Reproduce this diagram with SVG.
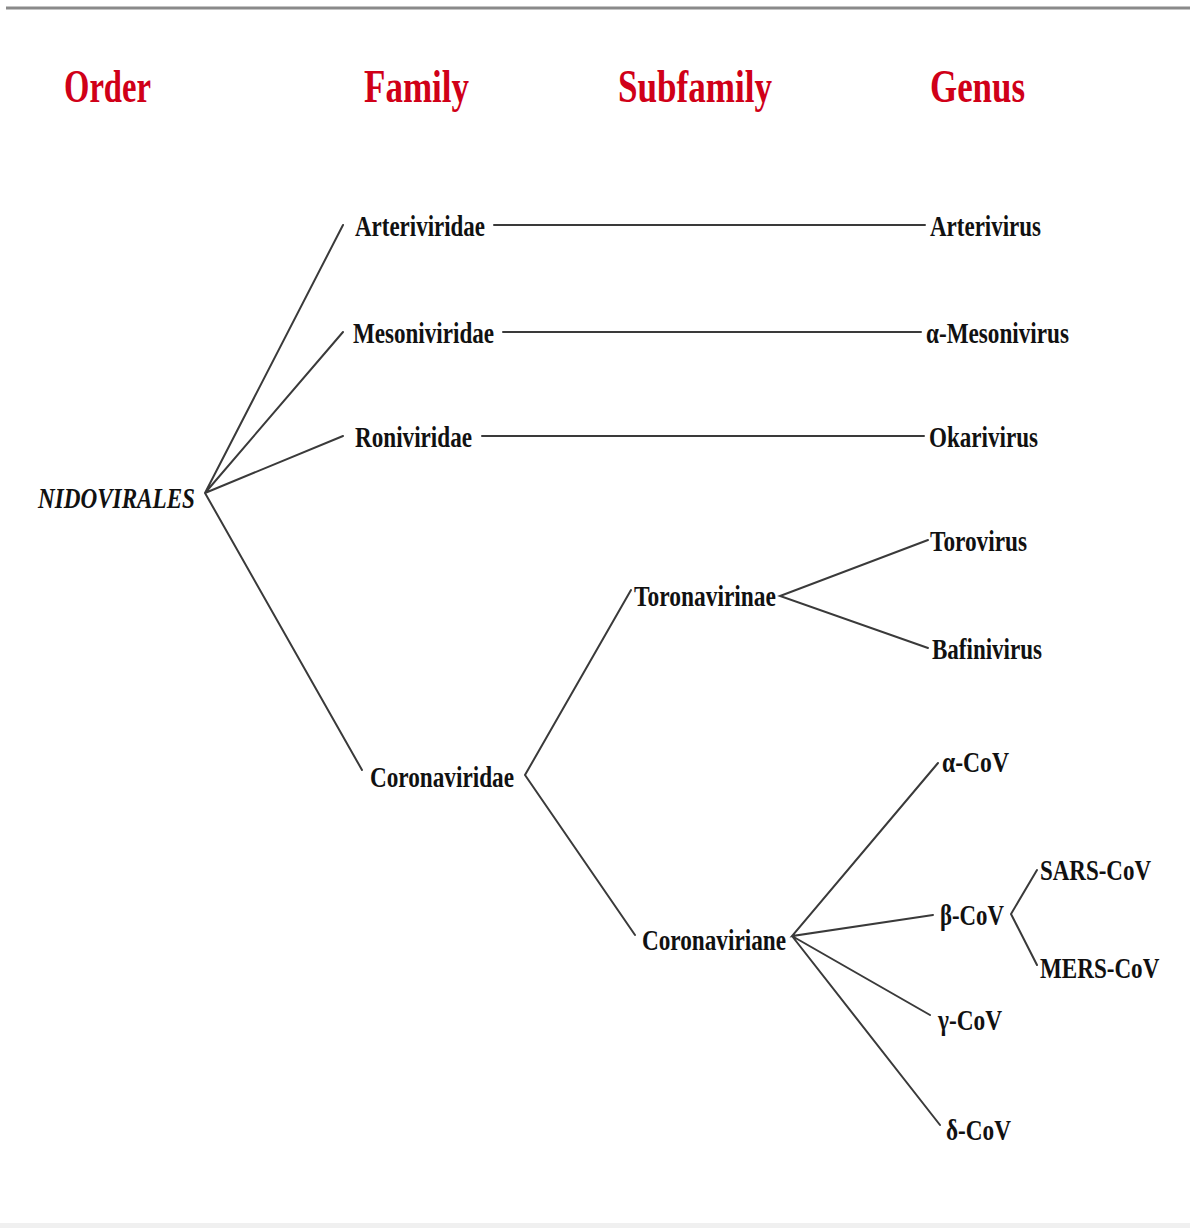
<svg xmlns="http://www.w3.org/2000/svg" width="1190" height="1228" viewBox="0 0 1190 1228">
<style>
.hd{font-family:"Liberation Serif","Times New Roman",serif;font-size:46px;font-weight:bold;fill:#d00018;}
.lb{font-family:"Liberation Serif","Times New Roman",serif;font-size:30px;font-weight:bold;fill:#111;}
.it{font-style:italic;}
.cn{stroke:#3a3a3a;stroke-width:2;fill:none;stroke-linecap:round;}
</style>
<rect x="0" y="0" width="1190" height="1228" fill="#fff"/>
<line x1="6" y1="8" x2="1190" y2="8" stroke="#8a8a8a" stroke-width="3"/>
<rect x="0" y="1223" width="1190" height="5" fill="#f0f0f0"/>
<g id="headers">
<text class="hd" x="64" y="102" textLength="87" lengthAdjust="spacingAndGlyphs">Order</text>
<text class="hd" x="364" y="102" textLength="105" lengthAdjust="spacingAndGlyphs">Family</text>
<text class="hd" x="618" y="102" textLength="154" lengthAdjust="spacingAndGlyphs">Subfamily</text>
<text class="hd" x="930" y="102" textLength="95" lengthAdjust="spacingAndGlyphs">Genus</text>
</g>
<g id="connectors">
<path class="cn" d="M205,493 L343,225 M205,493 L343,332 M205,493 L343,436 M205,493 L362,770"/>
<path class="cn" d="M494,225 L925,225 M503,332 L921,332 M482,436 L924,436"/>
<path class="cn" d="M631,590 L525,775 L635,935"/>
<path class="cn" d="M928,540 L780,596 L928,648"/>
<path class="cn" d="M938,763 L792,936 L933,915 M792,936 L930,1015 M792,936 L940,1125"/>
<path class="cn" d="M1037,870 L1011,914 L1037,965"/>
</g>
<g id="n-nidovirales"><text class="lb it" x="38" y="508" textLength="157" lengthAdjust="spacingAndGlyphs">NIDOVIRALES</text></g>
<g id="n-arteriviridae"><text class="lb" x="355" y="236" textLength="130" lengthAdjust="spacingAndGlyphs">Arteriviridae</text></g>
<g id="n-mesoniviridae"><text class="lb" x="353" y="343" textLength="141" lengthAdjust="spacingAndGlyphs">Mesoniviridae</text></g>
<g id="n-roniviridae"><text class="lb" x="355" y="447" textLength="117" lengthAdjust="spacingAndGlyphs">Roniviridae</text></g>
<g id="n-coronaviridae"><text class="lb" x="370" y="787" textLength="144" lengthAdjust="spacingAndGlyphs">Coronaviridae</text></g>
<g id="n-arterivirus"><text class="lb" x="930" y="236" textLength="111" lengthAdjust="spacingAndGlyphs">Arterivirus</text></g>
<g id="n-mesonivirus"><text class="lb" x="926" y="343" textLength="143" lengthAdjust="spacingAndGlyphs">α-Mesonivirus</text></g>
<g id="n-okarivirus"><text class="lb" x="929" y="447" textLength="109" lengthAdjust="spacingAndGlyphs">Okarivirus</text></g>
<g id="n-toronavirinae"><text class="lb" x="634" y="606" textLength="142" lengthAdjust="spacingAndGlyphs">Toronavirinae</text></g>
<g id="n-torovirus"><text class="lb" x="930" y="551" textLength="97" lengthAdjust="spacingAndGlyphs">Torovirus</text></g>
<g id="n-bafinivirus"><text class="lb" x="932" y="659" textLength="110" lengthAdjust="spacingAndGlyphs">Bafinivirus</text></g>
<g id="n-coronaviriane"><text class="lb" x="642" y="950" textLength="144" lengthAdjust="spacingAndGlyphs">Coronaviriane</text></g>
<g id="n-alpha"><text class="lb" x="942" y="772" textLength="67" lengthAdjust="spacingAndGlyphs">α-CoV</text></g>
<g id="n-beta"><text class="lb" x="940" y="925" textLength="64" lengthAdjust="spacingAndGlyphs">β-CoV</text></g>
<g id="n-gamma"><text class="lb" x="938" y="1030" textLength="64" lengthAdjust="spacingAndGlyphs">γ-CoV</text></g>
<g id="n-delta"><text class="lb" x="946" y="1140" textLength="65" lengthAdjust="spacingAndGlyphs">δ-CoV</text></g>
<g id="n-sars"><text class="lb" x="1040" y="880" textLength="111" lengthAdjust="spacingAndGlyphs">SARS-CoV</text></g>
<g id="n-mers"><text class="lb" transform="translate(1040,978) scale(0.77,1)" x="0" y="0">MERS-CoV</text></g>
</svg>
